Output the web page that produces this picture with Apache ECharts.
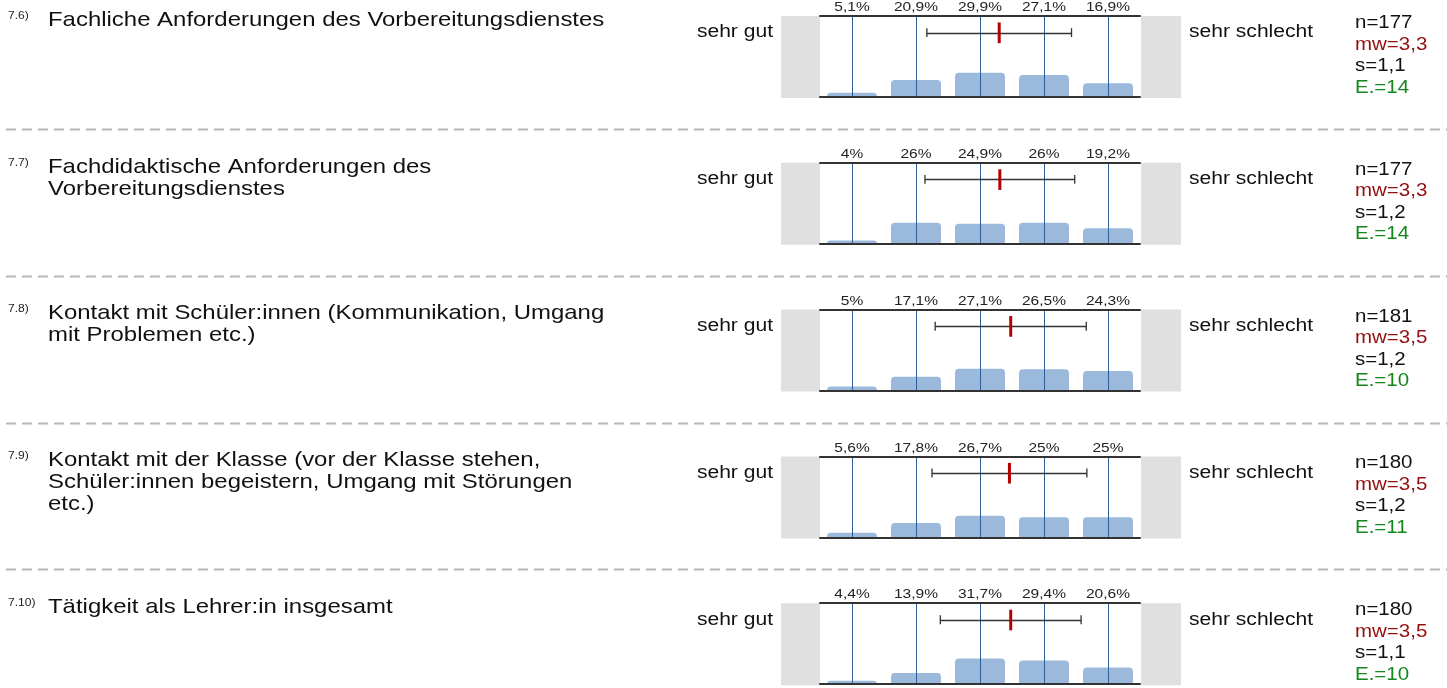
<!DOCTYPE html>
<html>
<head>
<meta charset="utf-8">
<script src="https://cdn.jsdelivr.net/npm/echarts@6/dist/echarts.min.js"></script>
<style>
  html, body { margin: 0; padding: 0; background: #fff; }
  #chart { width: 1447px; height: 688px; }
</style>
</head>
<body>
<div id="chart"></div>
<script>
// Item codes and wording
const codes = ['7.6)', '7.7)', '7.8)', '7.9)', '7.10)'];
const items = [
  'Fachliche Anforderungen des Vorbereitungsdienstes',
  'Fachdidaktische Anforderungen des Vorbereitungsdienstes',
  'Kontakt mit Schüler:innen (Kommunikation, Umgang mit Problemen etc.)',
  'Kontakt mit der Klasse (vor der Klasse stehen, Schüler:innen begeistern, Umgang mit Störungen etc.)',
  'Tätigkeit als Lehrer:in insgesamt'
];
// Answer scale (1 = sehr gut ... 5 = sehr schlecht)
const scale = ['1', '2', '3', '4', '5'];
const poleLeft = 'sehr gut';
const poleRight = 'sehr schlecht';
// Share of answers per scale point, in percent
const shares76 = [5.1, 20.9, 29.9, 27.1, 16.9];
const shares77 = [4, 26, 24.9, 26, 19.2];
const shares78 = [5, 17.1, 27.1, 26.5, 24.3];
const shares79 = [5.6, 17.8, 26.7, 25, 25];
const shares710 = [4.4, 13.9, 31.7, 29.4, 20.6];
const shares = [shares76, shares77, shares78, shares79, shares710];
// Summary statistics
const nCount = [177, 177, 181, 180, 180];
const means = [3.3, 3.31, 3.48, 3.46, 3.48];
const stdDevs = [1.13, 1.17, 1.18, 1.21, 1.1];
const abstentions = [14, 14, 10, 11, 10];

const FONT = '"Liberation Sans", Arial, Helvetica, sans-serif';
const fmt = v => String(v).replace('.', ',');
const fmt1 = v => v.toFixed(1).replace('.', ',');

const ROW_STEP = 146.8;
const ROW_TOP = 16;
const PLOT_LEFT = 820, PLOT_W = 320, PLOT_H = 81;

// greedy word wrap so that continuation lines start without a blank
const measureCtx = document.createElement('canvas').getContext('2d');
function wrap(text, size, maxWidth) {
  measureCtx.font = size + 'px ' + FONT;
  const words = text.split(' ');
  const lines = [];
  let line = '';
  words.forEach(w => {
    const trial = line ? line + ' ' + w : w;
    if (line && measureCtx.measureText(trial).width > maxWidth) {
      lines.push(line);
      line = w;
    } else {
      line = trial;
    }
  });
  if (line) lines.push(line);
  return lines.join('\n');
}

const grids = [], xAxes = [], yAxes = [], series = [], graphics = [];

// lettering is set slightly wide
const wideText = (x, y, text, size, stretch, extra) => Object.assign({
  type: 'text', x: x, y: y, scaleX: stretch, silent: true,
  style: Object.assign({
    text: text, fontSize: size, fontFamily: FONT, fill: '#111',
    align: 'left', verticalAlign: 'top'
  }, extra || {})
});

items.forEach((label, i) => {
  const top = ROW_TOP + ROW_STEP * i;
  grids.push({ left: PLOT_LEFT, top: top, width: PLOT_W, height: PLOT_H });

  const axisBase = {
    gridIndex: i, type: 'category', data: scale, z: 10,
    axisLine: { show: true, lineStyle: { color: '#333', width: 2 } },
    axisTick: { show: false }, axisLabel: { show: false }, splitLine: { show: false }
  };
  xAxes.push(Object.assign({ position: 'bottom' }, axisBase));
  xAxes.push(Object.assign({ position: 'top' }, axisBase));
  // continuous axis for guide lines, labels, mean and deviation
  xAxes.push({ gridIndex: i, type: 'value', min: 0.5, max: 5.5, show: false });
  yAxes.push({ gridIndex: i, type: 'value', min: 0, max: 100, show: false });

  const xb = i * 3, xv = i * 3 + 2;

  series.push({
    type: 'bar', xAxisIndex: xb, yAxisIndex: i, barWidth: 50, z: 2,
    data: shares[i],
    itemStyle: { color: '#9bbadb', borderRadius: [4, 4, 0, 0] },
    silent: true
  });
  // guide line at every scale point, with the share printed above the plot
  series.push({
    type: 'custom', xAxisIndex: xv, yAxisIndex: i, z: 3, silent: true,
    data: scale.map((s, k) => [Number(s), shares[i][k]]),
    renderItem: (params, api) => {
      const pBot = api.coord([api.value(0), 0]);
      const pTop = api.coord([api.value(0), 100]);
      const x = Math.round(pBot[0]) + 0.5;
      return {
        type: 'group',
        children: [
          { type: 'line', shape: { x1: x, y1: pBot[1], x2: x, y2: pTop[1] }, style: { stroke: '#2e5f96', lineWidth: 1 } },
          {
            type: 'text', x: pTop[0], y: pTop[1] - 1.5, scaleX: 1.15,
            style: {
              text: fmt(api.value(1)) + '%', fontSize: 13.5, fontFamily: FONT, fill: '#222',
              align: 'center', verticalAlign: 'bottom'
            }
          }
        ]
      };
    }
  });
  // mean with +/- one standard deviation
  series.push({
    type: 'custom', xAxisIndex: xv, yAxisIndex: i, z: 4, silent: true,
    data: [[means[i], stdDevs[i]]],
    renderItem: (params, api) => {
      const m = api.value(0), s = api.value(1);
      const pL = api.coord([m - s, 79.4]);
      const pR = api.coord([m + s, 79.4]);
      const capTop = api.coord([m, 85])[1];
      const capBot = api.coord([m, 74])[1];
      const mTop = api.coord([m, 92])[1];
      const mBot = api.coord([m, 66.5])[1];
      const pm = api.coord([m, 79.4]);
      const ly = Math.round(pL[1]) + 0.5;
      return {
        type: 'group',
        children: [
          { type: 'line', shape: { x1: pL[0], y1: ly, x2: pR[0], y2: ly }, style: { stroke: '#333', lineWidth: 1.3 } },
          { type: 'line', shape: { x1: pL[0], y1: capTop, x2: pL[0], y2: capBot }, style: { stroke: '#333', lineWidth: 1.3 } },
          { type: 'line', shape: { x1: pR[0], y1: capTop, x2: pR[0], y2: capBot }, style: { stroke: '#333', lineWidth: 1.3 } },
          { type: 'line', shape: { x1: pm[0], y1: mTop, x2: pm[0], y2: mBot }, style: { stroke: '#b40000', lineWidth: 3 } }
        ]
      };
    }
  });

  // grey end boxes
  graphics.push({ type: 'rect', x: 781, y: top, shape: { width: 39, height: PLOT_H + 1 }, style: { fill: '#e0e0e0' }, silent: true, z: 0 });
  graphics.push({ type: 'rect', x: 1141, y: top, shape: { width: 40, height: PLOT_H + 1 }, style: { fill: '#e0e0e0' }, silent: true, z: 0 });

  // item code and wording
  graphics.push(wideText(8, top - 5.5, codes[i], 10.5, 1.15, { fill: '#222' }));
  graphics.push(wideText(48, top - 7, wrap(label, 21, 500), 21, 1.14, { lineHeight: 22 }));

  // scale poles
  graphics.push(wideText(773, top + 7.5, poleLeft, 18, 1.17, { align: 'right' }));
  graphics.push(wideText(1189, top + 7.5, poleRight, 18, 1.17));

  // statistics block
  graphics.push(wideText(1355, top - 3.5, [
      '{n|n=' + nCount[i] + '}',
      '{mw|mw=' + fmt1(means[i]) + '}',
      '{s|s=' + fmt1(stdDevs[i]) + '}',
      '{e|E.=' + abstentions[i] + '}'
    ].join('\n'), 17.5, 1.17, {
    lineHeight: 21.5,
    rich: {
      n: { fontSize: 17.5, fontFamily: FONT, fill: '#111', lineHeight: 21.5 },
      mw: { fontSize: 17.5, fontFamily: FONT, fill: '#950f0f', lineHeight: 21.5 },
      s: { fontSize: 17.5, fontFamily: FONT, fill: '#111', lineHeight: 21.5 },
      e: { fontSize: 17.5, fontFamily: FONT, fill: '#14871c', lineHeight: 21.5 }
    }
  }));

  // dashed separator below each row except the last
  if (i < items.length - 1) {
    const sy = Math.round(top + 113) + 0.5;
    graphics.push({
      type: 'line', silent: true,
      shape: { x1: 6, y1: sy, x2: 1447, y2: sy },
      style: { stroke: '#b8b8b8', lineWidth: 2, lineDash: [10, 6] }
    });
  }
});

const chart = echarts.init(document.getElementById('chart'), null, { renderer: 'canvas' });
chart.setOption({
  animation: false,
  backgroundColor: '#fff',
  textStyle: { fontFamily: FONT },
  grid: grids,
  xAxis: xAxes,
  yAxis: yAxes,
  series: series,
  graphic: { elements: graphics }
});
</script>
</body>
</html>
